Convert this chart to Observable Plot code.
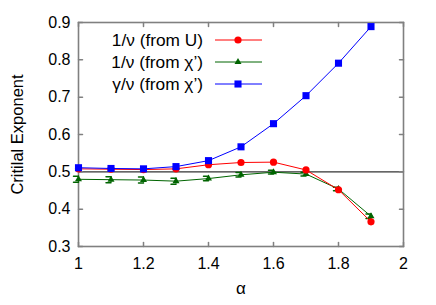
<!DOCTYPE html>
<html><head>
<meta charset="utf-8">
<script src="https://cdn.jsdelivr.net/npm/d3@7"></script>
<script src="https://cdn.jsdelivr.net/npm/@observablehq/plot@0.6"></script>
<style>
body{margin:0;background:#fff;}
#chart{position:relative;width:436px;height:305px;}
#chart svg{font-family:"Liberation Sans",Arial,sans-serif;}
</style>
</head><body><div id="chart"></div>
<script>
const alpha = [1.0, 1.1, 1.2, 1.3, 1.4, 1.5, 1.6, 1.7, 1.8, 1.9];
const nuFromU = [0.508, 0.507, 0.506, 0.508, 0.519, 0.525, 0.526, 0.505, 0.452, 0.366];
const nuFromChi = [0.480, 0.479, 0.478, 0.475, 0.482, 0.492, 0.499, 0.494, 0.454, 0.381];
const nuFromChiErr = [0.008, 0.008, 0.008, 0.008, 0.006, 0.006, 0.005, 0.005, 0.005, 0.006];
const gammaFromChi = [0.511, 0.509, 0.508, 0.514, 0.530, 0.567, 0.629, 0.704, 0.791, 0.889];
const xTicks = [1, 1.2, 1.4, 1.6, 1.8, 2];
const yTicks = [0.3, 0.4, 0.5, 0.6, 0.7, 0.8, 0.9];
const refLine = [0.5];
const seriesLabels = ["1/\u03bd (from U)", "1/\u03bd (from \u03c7\u2019)", "\u03b3/\u03bd (from \u03c7\u2019)"];
const seriesColors = ["#ff0000", "#006400", "#0000ff"];
const seriesSymbols = ["circle", "triangle", "square"];
const xLabel = "\u03b1";
const yLabel = "Critilal Exponent";

const red = alpha.map((x, i) => ({x, y: nuFromU[i]}));
const green = alpha.map((x, i) => ({x, y: nuFromChi[i], e: nuFromChiErr[i]}));
const blue = alpha.map((x, i) => ({x, y: gammaFromChi[i]}));

const lineShape = {draw(ctx, l) { ctx.moveTo(0, 0); ctx.lineTo(0, -l); }};
const capShape = {draw(ctx, l) { ctx.moveTo(0, l / 2); ctx.lineTo(0, -l / 2); }};
const tickColor = "#808080";

const plot = Plot.plot({
  width: 436, height: 305,
  marginLeft: 78, marginRight: 33, marginTop: 22, marginBottom: 59,
  style: {fontSize: "16px", fontFamily: "'Liberation Sans', Arial, sans-serif", color: "#000", background: "#fff"},
  x: {domain: [1, 2], ticks: xTicks, tickFormat: d => String(d)},
  y: {domain: [0.3, 0.9], ticks: yTicks, tickFormat: d => d.toFixed(1)},
  marks: [
    Plot.ruleY(refLine, {stroke: "#333", strokeWidth: 1.3}),
    // inward ticks
    Plot.vector(xTicks, {x: d => d, frameAnchor: "bottom", anchor: "start", length: 4, rotate: 0, shape: lineShape, stroke: tickColor}),
    Plot.vector(xTicks, {x: d => d, frameAnchor: "top", anchor: "start", length: 4, rotate: 180, shape: lineShape, stroke: tickColor}),
    Plot.vector(yTicks, {y: d => d, frameAnchor: "left", anchor: "start", length: 4, rotate: 90, shape: lineShape, stroke: tickColor}),
    Plot.vector(yTicks, {y: d => d, frameAnchor: "right", anchor: "start", length: 4, rotate: -90, shape: lineShape, stroke: tickColor}),
    Plot.frame({stroke: tickColor, strokeWidth: 1.6}),
    Plot.axisX({ticks: xTicks, tickSize: 0, tickPadding: 11, tickFormat: d => String(d), label: null}),
    Plot.axisY({ticks: yTicks, tickSize: 0, tickPadding: 8, tickFormat: d => d.toFixed(1), label: null}),
    // green series with error bars
    Plot.line(green, {x: "x", y: "y", stroke: seriesColors[1], strokeWidth: 1}),
    Plot.ruleX(green, {x: "x", y1: d => d.y - d.e, y2: d => d.y + d.e, stroke: seriesColors[1], strokeWidth: 1}),
    Plot.vector(green, {x: "x", y: d => d.y + d.e, rotate: 90, anchor: "middle", length: 5, shape: capShape, stroke: seriesColors[1]}),
    Plot.vector(green, {x: "x", y: d => d.y - d.e, rotate: 90, anchor: "middle", length: 5, shape: capShape, stroke: seriesColors[1]}),
    Plot.dot(green, {x: "x", y: "y", symbol: "triangle", r: 2.6, fill: seriesColors[1]}),
    // red
    Plot.line(red, {x: "x", y: "y", stroke: seriesColors[0], strokeWidth: 1}),
    Plot.dot(red, {x: "x", y: "y", symbol: "circle", r: 3.6, fill: seriesColors[0]}),
    // blue
    Plot.line(blue, {x: "x", y: "y", stroke: seriesColors[2], strokeWidth: 1}),
    Plot.dot(blue, {x: "x", y: "y", symbol: "square", r: 4, fill: seriesColors[2]}),
    // axis titles
    Plot.text([xLabel], {frameAnchor: "bottom", dy: 47, text: d => d, fontSize: 17, textAnchor: "middle"}),
    Plot.text([yLabel], {frameAnchor: "left", dx: -61, rotate: -90, text: d => d, fontSize: 16.5, textAnchor: "middle", lineAnchor: "middle"})
  ]
});
document.getElementById("chart").appendChild(plot);

// legend inside the plot area
const svg = d3.select(plot);
const lg = svg.append("g").attr("font-family", "'Liberation Sans', Arial, sans-serif").attr("font-size", 17.3);
const legendX = 203, legendY0 = 40, legendDy = 22, lineX0 = 215, lineX1 = 262, markX = 238;
seriesLabels.forEach((lab, i) => {
  const y = legendY0 + i * legendDy;
  lg.append("text").attr("x", legendX).attr("y", y).attr("dy", "0.35em").attr("text-anchor", "end").text(lab);
  lg.append("line").attr("x1", lineX0).attr("x2", lineX1).attr("y1", y).attr("y2", y).attr("stroke", seriesColors[i]).attr("stroke-width", 1);
  const sym = d3.symbol().type(seriesSymbols[i] === "circle" ? d3.symbolCircle : seriesSymbols[i] === "triangle" ? d3.symbolTriangle : d3.symbolSquare)
    .size(seriesSymbols[i] === "circle" ? Math.PI * 3.6 * 3.6 : seriesSymbols[i] === "triangle" ? Math.PI * 2.6 * 2.6 : Math.PI * 16);
  lg.append("path").attr("d", sym()).attr("transform", `translate(${markX},${y})`).attr("fill", seriesColors[i]);
});
</script>
</body></html>
